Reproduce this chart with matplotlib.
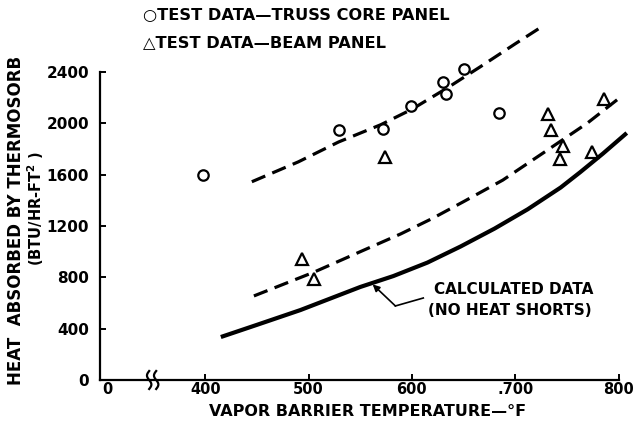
import numpy as np
import matplotlib
matplotlib.use("Agg")
import matplotlib.pyplot as plt
from matplotlib.transforms import blended_transform_factory

# ---- data ----
truss_T = [398, 529, 572, 599, 630, 633, 650, 684]
truss_Q = [1600, 1950, 1955, 2135, 2320, 2230, 2420, 2080]

beam_T = [494, 505, 574, 732, 735, 746, 743, 774, 786]
beam_Q = [940, 790, 1740, 2070, 1950, 1820, 1720, 1780, 2190]

truss_fit_T = [445, 490, 529, 570, 600, 635, 666, 700, 727]
truss_fit_Q = [1545, 1700, 1855, 1990, 2110, 2280, 2440, 2620, 2760]

beam_fit_T = [447, 505, 550, 589, 620, 650, 688, 727, 770, 802]
beam_fit_Q = [655, 840, 1000, 1138, 1260, 1390, 1558, 1769, 2003, 2205]

calc_T = [415, 450, 492, 550, 582, 615, 647, 680, 712, 744, 763, 785, 808]
calc_Q = [335, 430, 545, 725, 810, 915, 1040, 1180, 1330, 1500, 1620, 1765, 1925]

x_tick_pos = [305, 400, 500, 600, 700, 800]
x_tick_labels = ["0", "400", "500", "600", ".700", "800"]
y_ticks = [0, 400, 800, 1200, 1600, 2000, 2400]

plt.rcParams['font.family'] = ['DejaVu Sans']
plt.rcParams['font.weight'] = 'bold'
plt.rcParams['lines.scale_dashes'] = False

fig = plt.figure(figsize=(6.35, 4.25), dpi=100)
ax = fig.add_axes([100/635, 1 - 380/425, 534/635, (380 - 14.3)/425])
ax.set_xlim(298, 815)
ax.set_ylim(0, 2850)

for s in ['top', 'right']:
    ax.spines[s].set_visible(False)
for s in ['left', 'bottom']:
    ax.spines[s].set_linewidth(1.6)
ax.spines['left'].set_bounds(0, 2400)
ax.spines['bottom'].set_bounds(298, 800)

ax.set_xticks(x_tick_pos)
ax.set_xticklabels(x_tick_labels)
ax.set_yticks(y_ticks)
ax.set_yticklabels([str(v) for v in y_ticks])
ax.tick_params(direction='in', length=4, width=1.4, labelsize=11)
ax.tick_params(axis='y', pad=8)
ax.tick_params(axis='x', pad=1.5, labelsize=10.5)
ax.xaxis.get_major_ticks()[0].tick1line.set_visible(False)
for lab in ax.get_xticklabels() + ax.get_yticklabels():
    lab.set_fontweight('bold')

# curves
ax.plot(truss_fit_T, truss_fit_Q, color='black', lw=2.3, dashes=(10.5, 5.5),
        dash_capstyle='butt')
ax.plot(beam_fit_T, beam_fit_Q, color='black', lw=2.3, dashes=(10.5, 5.5),
        dash_capstyle='butt')
ax.plot(calc_T, calc_Q, color='black', lw=3.0, solid_capstyle='butt')

# data points
ax.plot(truss_T, truss_Q, 'o', ms=7.5, mfc='white', mec='black', mew=1.6,
        linestyle='none', zorder=5)
ax.plot(beam_T, beam_Q, '^', ms=8, mfc='white', mec='black', mew=1.6,
        linestyle='none', zorder=5)

# axis break symbol
t = np.linspace(-1, 1, 40)
trans = blended_transform_factory(ax.transData, ax.transAxes)
for dx in (-3.5, 3.5):
    xs = 349 + (dx - 2.2 * np.sin(np.pi * t)) / 1.033
    ax.plot(xs, t * 9 / 366, color='black', lw=1.6, transform=trans,
            clip_on=False)

# annotation
ax.plot([611, 584], [639, 577], color='black', lw=1.2)
ax.annotate('', xy=(562, 745), xytext=(584, 577),
            arrowprops=dict(arrowstyle='-|>', color='black', lw=1.2,
                            mutation_scale=10, shrinkA=0, shrinkB=0))
ax.text(621, 707, 'CALCULATED DATA', fontsize=11, fontweight='bold',
        va='center', ha='left')
ax.text(616, 545, '(NO HEAT SHORTS)', fontsize=11, fontweight='bold',
        va='center', ha='left')

# legend text
fig.text(143/635, 1 - 15/425, '\u25cbTEST DATA\u2014TRUSS CORE PANEL',
         fontsize=11.7, fontweight='bold', va='center', ha='left')
fig.text(143/635, 1 - 43/425, '\u25b3TEST DATA\u2014BEAM PANEL',
         fontsize=11.7, fontweight='bold', va='center', ha='left')

# axis labels
fig.text(368/635, 1 - 411/425, 'VAPOR BARRIER TEMPERATURE\u2014\u00b0F',
         fontsize=11.5, fontweight='bold', va='center', ha='center')
fig.text(16/635, 1 - 220/425, 'HEAT  ABSORBED BY THERMOSORB',
         fontsize=12, fontweight='bold', va='center', ha='center', rotation=90)
fig.text(36/635, 1 - 209/425, '(BTU/HR-FT$^{\\mathbf{2}}$ )',
         fontsize=10.5, fontweight='bold', va='center', ha='center', rotation=90)

fig.savefig('out.png', dpi=100)
